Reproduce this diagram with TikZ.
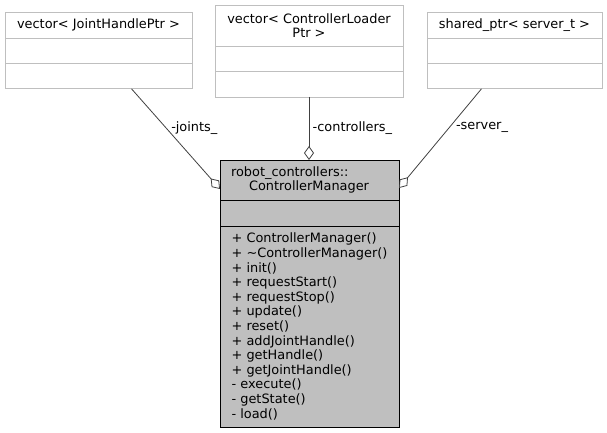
\documentclass[tikz,border=0pt]{standalone}
\usepackage{fontspec}
\setmainfont{DejaVu Sans}
\usetikzlibrary{positioning,arrows.meta}
\definecolor{boxgray}{HTML}{BFBFBF}
\definecolor{edgegray}{HTML}{404040}

\begin{document}
\begin{tikzpicture}[x=1pt,y=-1pt,node distance=0pt,
    font=\fontsize{12.9}{14.6}\selectfont,
    cls/.style={draw=boxgray,fill=white,line width=0.8pt,inner sep=0pt,outer sep=0pt,minimum height=25.4pt,align=center},
    main/.style={draw=black,fill=boxgray,line width=0.8pt,inner xsep=11pt,inner ysep=0pt,outer sep=0pt,minimum width=179pt,align=left},
    member/.style={-{Diamond[open,length=14pt,width=10pt]},draw=edgegray,line width=0.8pt}]
    \useasboundingbox (0,0) rectangle (607,433);
    % member types
    \node[cls,minimum width=187pt] (joints) at (98.5,25.3) {vector< JointHandlePtr >};
    \node[cls,minimum width=187pt] (joints2) [below=of joints] {};
    \node[cls,minimum width=187pt] (joints3) [below=of joints2] {};
    \node[cls,minimum width=188pt,minimum height=41pt,font=\fontsize{12.9}{13.4}\selectfont] (loaders) at (309,25.5) {vector< ControllerLoader\\Ptr >};
    \node[cls,minimum width=188pt,minimum height=25.5pt] (loaders2) [below=of loaders] {};
    \node[cls,minimum width=188pt,minimum height=25.5pt] (loaders3) [below=of loaders2] {};
    \node[cls,minimum width=175pt] (server) at (514.5,25.3) {shared\_ptr< server\_t >};
    \node[cls,minimum width=175pt] (server2) [below=of server] {};
    \node[cls,minimum width=175pt] (server3) [below=of server2] {};
    % the manager class
    \node[main,minimum height=40pt,text width=157pt,font=\fontsize{12.9}{12.5}\selectfont] (manager) at (309.5,180) {robot\_controllers::\\\hspace*{18pt}ControllerManager};
    \node[main,minimum height=26pt] (manager2) [below=of manager] {};
    \node[main,minimum height=201pt] (manager3) [below=of manager2] {+ ControllerManager()\\+ \textasciitilde ControllerManager()\\+ init()\\+ requestStart()\\+ requestStop()\\+ update()\\+ reset()\\+ addJointHandle()\\+ getHandle()\\+ getJointHandle()\\- execute()\\- getState()\\- load()};
    \path
        ([xshift=33pt]joints3.south) edge [member] node [pos=0.39,right=1.5pt] {-joints\_} ([yshift=-9pt]manager.west)
        (loaders3.south) edge [member] node [pos=0.49,right] {-controllers\_} (manager.north -| loaders3.south)
        ([xshift=-33pt]server3.south) edge [member] node [pos=0.39,right=3pt] {-server\_} ([yshift=-8pt]manager.east)
    ;
\end{tikzpicture}
\end{document}
